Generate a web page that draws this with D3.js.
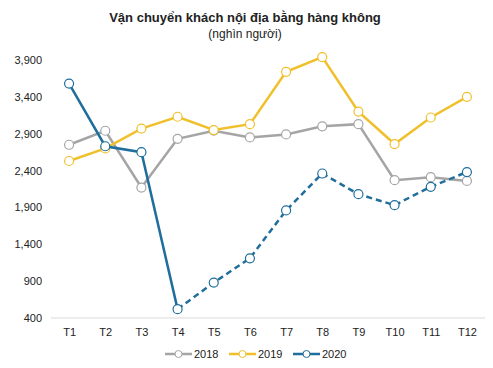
<!DOCTYPE html>
<html>
<head>
<meta charset="utf-8">
<script src="https://cdn.jsdelivr.net/npm/d3@7"></script>
<style>
  body { margin: 0; background: #fff; }
  svg text { font-family: "Liberation Sans", Arial, sans-serif; fill: #222; }
</style>
</head>
<body>
<div id="chart"></div>
<script>
var months = ["T1","T2","T3","T4","T5","T6","T7","T8","T9","T10","T11","T12"];
var y2018 = [2750, 2940, 2170, 2830, 2940, 2850, 2890, 3000, 3030, 2270, 2310, 2260];
var y2019 = [2530, 2700, 2970, 3130, 2950, 3030, 3740, 3940, 3200, 2760, 3120, 3400];
var y2020 = [3580, 2730, 2650, 520, 880, 1210, 1860, 2360, 2080, 1930, 2180, 2380];
var yTicks = [400, 900, 1400, 1900, 2400, 2900, 3400, 3900];
var seriesNames = ["2018", "2019", "2020"];
var colors = ["#a5a5a5", "#f0c02c", "#1f6e9c"];

var width = 493, height = 368;
var margin = {top: 60, right: 8, bottom: 50, left: 51};

var svg = d3.select("#chart").append("svg")
    .attr("width", width)
    .attr("height", height);

var x = d3.scalePoint()
    .domain(months)
    .range([margin.left, width - margin.right])
    .padding(0.5);

var y = d3.scaleLinear()
    .domain([400, 3900])
    .range([height - margin.bottom, margin.top]);

// title
svg.append("text")
    .attr("x", 245).attr("y", 22)
    .attr("text-anchor", "middle")
    .style("font-size", "13px").style("font-weight", "bold")
    .text("Vận chuyển khách nội địa bằng hàng không");
svg.append("text")
    .attr("x", 245).attr("y", 38)
    .attr("text-anchor", "middle")
    .style("font-size", "12px")
    .text("(nghìn người)");

// y axis labels
var yAxis = d3.axisLeft(y).tickValues(yTicks).tickSize(0).tickPadding(9)
    .tickFormat(d3.format(","));
svg.append("g")
    .attr("transform", "translate(" + margin.left + ",0)")
    .call(yAxis)
    .call(function(g) { g.select(".domain").remove(); })
    .selectAll("text").style("font-size", "11px").attr("fill", "#222")
    .style("font-family", "'Liberation Sans', Arial, sans-serif");

// x axis
var xAxis = d3.axisBottom(x).tickSize(0).tickPadding(10);
svg.append("g")
    .attr("transform", "translate(0," + y(400) + ")")
    .call(xAxis)
    .call(function(g) {
      g.select(".domain").attr("stroke", "#d9d9d9")
        .attr("d", "M" + margin.left + ",0H" + (width - margin.right));
    })
    .selectAll("text").style("font-size", "11px").attr("fill", "#222")
    .style("font-family", "'Liberation Sans', Arial, sans-serif");

var line = d3.line()
    .x(function(d) { return x(d.m); })
    .y(function(d) { return y(d.v); });

function toPts(arr) {
  return arr.map(function(v, i) { return {m: months[i], v: v}; });
}

var all = [y2018, y2019, y2020];
all.forEach(function(arr, si) {
  var pts = toPts(arr);
  if (si === 2) {
    svg.append("path").datum(pts.slice(0, 4))
      .attr("d", line).attr("fill", "none")
      .attr("stroke", colors[si]).attr("stroke-width", 2.5);
    svg.append("path").datum(pts.slice(3))
      .attr("d", line).attr("fill", "none")
      .attr("stroke", colors[si]).attr("stroke-width", 2.5)
      .attr("stroke-dasharray", "6,4");
  } else {
    svg.append("path").datum(pts)
      .attr("d", line).attr("fill", "none")
      .attr("stroke", colors[si]).attr("stroke-width", 2.5);
  }
  svg.selectAll(".pt" + si)
    .data(pts).enter().append("circle")
    .attr("class", "pt" + si)
    .attr("cx", function(d) { return x(d.m); })
    .attr("cy", function(d) { return y(d.v); })
    .attr("r", 4.5)
    .attr("fill", "#fff")
    .attr("stroke", colors[si])
    .attr("stroke-width", 1.2);
});

// legend
var legX = [165, 229, 293];
var leg = svg.selectAll(".leg").data(seriesNames).enter().append("g")
    .attr("class", "leg")
    .attr("transform", function(d, i) { return "translate(" + legX[i] + ",354)"; });
leg.append("line")
    .attr("x1", 0).attr("x2", 27).attr("y1", 0).attr("y2", 0)
    .attr("stroke", function(d, i) { return colors[i]; })
    .attr("stroke-width", 2.5);
leg.append("circle")
    .attr("cx", 13.5).attr("cy", 0).attr("r", 3.5)
    .attr("fill", "#fff")
    .attr("stroke", function(d, i) { return colors[i]; });
leg.append("text")
    .attr("x", 29).attr("y", 4)
    .style("font-size", "11px")
    .text(function(d) { return d; });
</script>
</body>
</html>
